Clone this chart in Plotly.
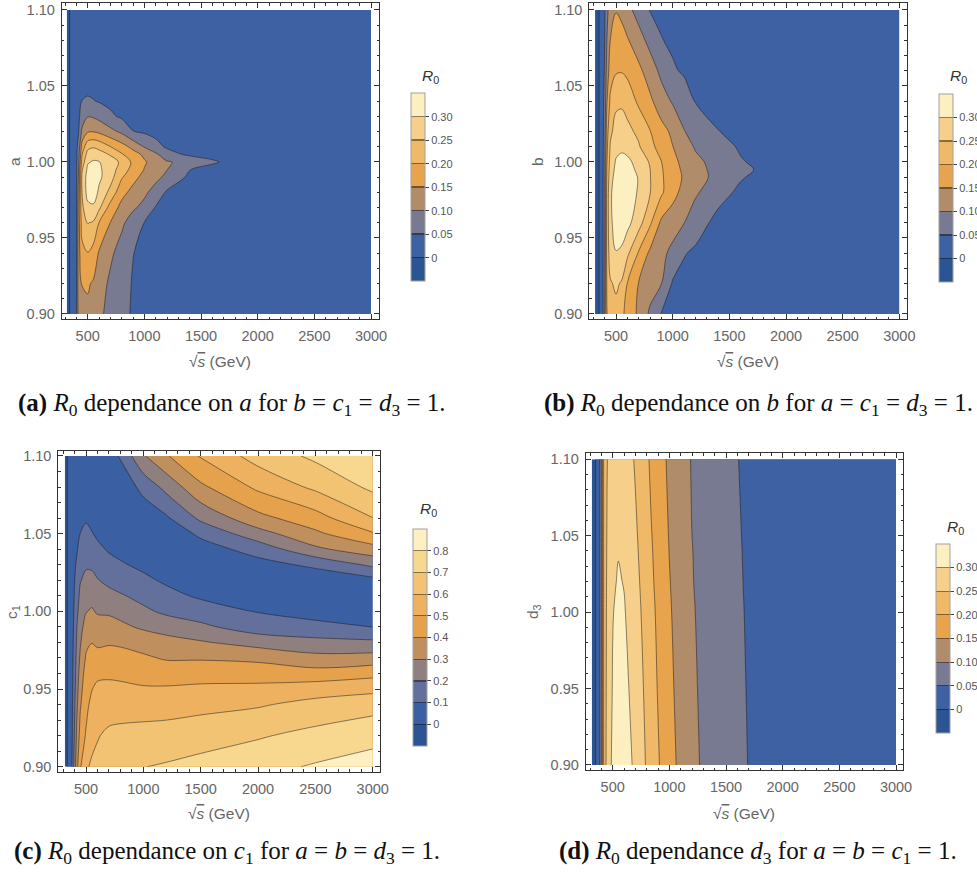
import plotly.graph_objects as go

W, H = 977, 878

# ---------------- data ----------------
sqrt_s = [315, 345, 360, 380, 400, 420, 450, 500, 550, 600, 700, 800, 900,
          1000, 1100, 1200, 1400, 1600, 1800, 2000, 2500, 3000]

# (a) R0 vs sqrt(s) and a
a_vals = [0.90, 0.92, 0.94, 0.96, 0.97, 0.98, 0.99, 0.995, 1.00, 1.005, 1.01, 1.02, 1.03,
          1.04, 1.05, 1.07, 1.10]
R0_a = [
    [-0.015, 0.003, 0.02, 0.03, 0.045, 0.12, 0.135, 0.14, 0.135, 0.11, 0.085, 0.063, 0.045, 0.035, 0.03, 0.025, 0.02, 0.018, 0.015, 0.013, 0.01, 0.008],
    [-0.015, 0.003, 0.02, 0.03, 0.045, 0.13, 0.152, 0.155, 0.145, 0.125, 0.09, 0.066, 0.047, 0.037, 0.031, 0.026, 0.021, 0.018, 0.016, 0.014, 0.011, 0.009],
    [-0.015, 0.003, 0.02, 0.03, 0.045, 0.13, 0.185, 0.198, 0.18, 0.145, 0.11, 0.078, 0.051, 0.04, 0.033, 0.028, 0.022, 0.019, 0.017, 0.015, 0.012, 0.01],
    [-0.015, 0.003, 0.02, 0.03, 0.045, 0.13, 0.22, 0.252, 0.245, 0.199, 0.149, 0.11, 0.075, 0.049, 0.04, 0.033, 0.025, 0.021, 0.019, 0.017, 0.013, 0.011],
    [-0.015, 0.003, 0.02, 0.03, 0.045, 0.13, 0.24, 0.285, 0.29, 0.26, 0.18, 0.135, 0.108, 0.085, 0.047, 0.04, 0.03, 0.025, 0.022, 0.02, 0.015, 0.012],
    [-0.015, 0.003, 0.02, 0.03, 0.045, 0.12, 0.25, 0.32, 0.33, 0.29, 0.235, 0.165, 0.135, 0.11, 0.08, 0.043, 0.032, 0.027, 0.023, 0.021, 0.016, 0.013],
    [-0.015, 0.003, 0.02, 0.03, 0.042, 0.11, 0.26, 0.32, 0.33, 0.31, 0.27, 0.205, 0.165, 0.135, 0.113, 0.088, 0.04, 0.03, 0.026, 0.023, 0.018, 0.014],
    [-0.015, 0.003, 0.02, 0.03, 0.041, 0.102, 0.245, 0.31, 0.32, 0.308, 0.275, 0.225, 0.183, 0.148, 0.125, 0.101, 0.051, 0.035, 0.03, 0.025, 0.019, 0.015],
    [-0.015, 0.003, 0.02, 0.03, 0.04, 0.09, 0.22, 0.295, 0.305, 0.302, 0.275, 0.24, 0.19, 0.155, 0.13, 0.105, 0.083, 0.056, 0.035, 0.028, 0.02, 0.015],
    [-0.015, 0.003, 0.02, 0.03, 0.039, 0.08, 0.198, 0.27, 0.28, 0.272, 0.245, 0.205, 0.17, 0.14, 0.11, 0.066, 0.042, 0.036, 0.031, 0.027, 0.021, 0.016],
    [-0.015, 0.003, 0.02, 0.03, 0.038, 0.07, 0.17, 0.235, 0.245, 0.235, 0.201, 0.17, 0.135, 0.097, 0.062, 0.045, 0.038, 0.033, 0.029, 0.026, 0.021, 0.016],
    [-0.015, 0.003, 0.02, 0.03, 0.035, 0.048, 0.11, 0.145, 0.148, 0.14, 0.115, 0.09, 0.051, 0.043, 0.039, 0.036, 0.032, 0.03, 0.028, 0.026, 0.021, 0.017],
    [-0.015, 0.003, 0.02, 0.028, 0.033, 0.042, 0.07, 0.098, 0.095, 0.085, 0.058, 0.043, 0.038, 0.035, 0.033, 0.031, 0.029, 0.027, 0.026, 0.024, 0.02, 0.017],
    [-0.015, 0.003, 0.02, 0.027, 0.031, 0.038, 0.051, 0.056, 0.052, 0.047, 0.04, 0.036, 0.033, 0.031, 0.03, 0.029, 0.027, 0.026, 0.025, 0.023, 0.02, 0.017],
    [-0.015, 0.003, 0.018, 0.025, 0.028, 0.032, 0.036, 0.038, 0.037, 0.035, 0.033, 0.031, 0.03, 0.029, 0.028, 0.027, 0.026, 0.025, 0.024, 0.023, 0.02, 0.017],
    [-0.015, 0.003, 0.015, 0.02, 0.022, 0.024, 0.026, 0.027, 0.027, 0.027, 0.026, 0.026, 0.025, 0.025, 0.024, 0.024, 0.023, 0.022, 0.022, 0.021, 0.019, 0.017],
    [-0.015, 0.003, 0.012, 0.015, 0.017, 0.018, 0.019, 0.02, 0.02, 0.02, 0.02, 0.02, 0.02, 0.02, 0.02, 0.02, 0.019, 0.019, 0.019, 0.018, 0.017, 0.016],
]

# (b) R0 vs sqrt(s) and b
b_vals = [0.90, 0.92, 0.94, 0.96, 0.98, 0.99, 0.995, 1.00, 1.01, 1.02, 1.04, 1.06, 1.08, 1.10]
R0_b = [
    [-0.03, -0.005, 0.008, 0.03, 0.098, 0.198, 0.228, 0.235, 0.21, 0.185, 0.14, 0.092, 0.048, 0.035, 0.03, 0.026, 0.021, 0.018, 0.016, 0.014, 0.011, 0.009],
    [-0.03, -0.005, 0.008, 0.03, 0.098, 0.21, 0.245, 0.258, 0.245, 0.199, 0.148, 0.12, 0.101, 0.045, 0.036, 0.03, 0.024, 0.02, 0.018, 0.016, 0.012, 0.01],
    [-0.03, -0.005, 0.008, 0.03, 0.098, 0.22, 0.275, 0.298, 0.29, 0.26, 0.195, 0.14, 0.115, 0.085, 0.053, 0.042, 0.031, 0.025, 0.021, 0.019, 0.014, 0.011],
    [-0.03, -0.005, 0.008, 0.03, 0.098, 0.22, 0.29, 0.32, 0.33, 0.315, 0.27, 0.208, 0.14, 0.125, 0.101, 0.073, 0.035, 0.028, 0.024, 0.021, 0.016, 0.012],
    [-0.03, -0.005, 0.008, 0.03, 0.095, 0.22, 0.29, 0.33, 0.34, 0.325, 0.295, 0.252, 0.208, 0.165, 0.135, 0.107, 0.068, 0.04, 0.03, 0.026, 0.019, 0.014],
    [-0.03, -0.005, 0.008, 0.03, 0.09, 0.21, 0.28, 0.32, 0.33, 0.318, 0.298, 0.252, 0.207, 0.17, 0.145, 0.12, 0.085, 0.054, 0.036, 0.03, 0.021, 0.015],
    [-0.03, -0.005, 0.008, 0.03, 0.088, 0.205, 0.275, 0.312, 0.322, 0.314, 0.292, 0.251, 0.205, 0.167, 0.142, 0.117, 0.084, 0.058, 0.044, 0.033, 0.021, 0.015],
    [-0.03, -0.005, 0.008, 0.03, 0.085, 0.198, 0.27, 0.305, 0.315, 0.31, 0.285, 0.245, 0.201, 0.162, 0.138, 0.113, 0.08, 0.054, 0.037, 0.03, 0.021, 0.015],
    [-0.03, -0.005, 0.008, 0.03, 0.08, 0.19, 0.255, 0.285, 0.29, 0.285, 0.255, 0.215, 0.18, 0.151, 0.125, 0.095, 0.07, 0.044, 0.035, 0.029, 0.021, 0.015],
    [-0.03, -0.005, 0.008, 0.03, 0.075, 0.18, 0.24, 0.268, 0.27, 0.262, 0.24, 0.202, 0.167, 0.14, 0.102, 0.085, 0.051, 0.04, 0.033, 0.028, 0.02, 0.015],
    [-0.03, -0.005, 0.008, 0.03, 0.065, 0.148, 0.21, 0.24, 0.243, 0.232, 0.19, 0.16, 0.122, 0.095, 0.075, 0.048, 0.038, 0.033, 0.029, 0.026, 0.019, 0.015],
    [-0.03, -0.005, 0.008, 0.028, 0.055, 0.12, 0.175, 0.195, 0.197, 0.188, 0.162, 0.125, 0.088, 0.056, 0.044, 0.04, 0.033, 0.03, 0.027, 0.024, 0.018, 0.014],
    [-0.03, -0.005, 0.008, 0.027, 0.049, 0.101, 0.151, 0.168, 0.165, 0.155, 0.12, 0.085, 0.052, 0.042, 0.037, 0.034, 0.03, 0.027, 0.025, 0.023, 0.018, 0.014],
    [-0.03, -0.005, 0.008, 0.026, 0.045, 0.085, 0.13, 0.148, 0.14, 0.115, 0.08, 0.048, 0.04, 0.036, 0.033, 0.031, 0.028, 0.025, 0.023, 0.021, 0.017, 0.014],
]

# (c) R0 vs sqrt(s) and c1 (one list per sqrt(s) value, running over c1_vals)
sqrt_s_c = [315, 340, 360, 380, 400, 420, 450, 500, 550, 600, 700, 800, 1000, 1200, 1500, 2000, 2500, 3000]
c1_vals = [0.90, 0.92, 0.94, 0.95, 0.96, 0.97, 0.98, 0.99, 1.00, 1.01, 1.02, 1.03, 1.04, 1.05, 1.06, 1.08, 1.10]
R0_c_cols = [
    [-0.03] * 17,
    [0.005] * 17,
    [0.04, 0.038, 0.036, 0.035, 0.034, 0.033, 0.032, 0.031, 0.03, 0.029, 0.028, 0.026, 0.024, 0.022, 0.02, 0.017, 0.015],
    [0.11, 0.098, 0.09, 0.085, 0.08, 0.075, 0.07, 0.065, 0.06, 0.055, 0.05, 0.045, 0.04, 0.035, 0.03, 0.02, 0.015],
    [0.25, 0.21, 0.185, 0.17, 0.16, 0.151, 0.14, 0.13, 0.12, 0.108, 0.097, 0.085, 0.07, 0.06, 0.049, 0.035, 0.02],
    [0.37, 0.32, 0.28, 0.26, 0.245, 0.23, 0.215, 0.199, 0.18, 0.16, 0.14, 0.115, 0.09, 0.07, 0.055, 0.04, 0.025],
    [0.49, 0.435, 0.39, 0.37, 0.345, 0.315, 0.29, 0.265, 0.24, 0.22, 0.195, 0.165, 0.135, 0.101, 0.08, 0.048, 0.03],
    [0.59, 0.51, 0.47, 0.455, 0.44, 0.41, 0.38, 0.34, 0.295, 0.255, 0.22, 0.19, 0.155, 0.12, 0.09, 0.048, 0.03],
    [0.61, 0.58, 0.53, 0.495, 0.46, 0.43, 0.398, 0.355, 0.31, 0.27, 0.225, 0.185, 0.145, 0.105, 0.075, 0.04, 0.035],
    [0.62, 0.595, 0.56, 0.53, 0.47, 0.43, 0.385, 0.34, 0.29, 0.245, 0.205, 0.165, 0.12, 0.085, 0.06, 0.03, 0.045],
    [0.65, 0.615, 0.565, 0.53, 0.48, 0.44, 0.39, 0.34, 0.285, 0.23, 0.175, 0.13, 0.09, 0.06, 0.04, 0.02, 0.06],
    [0.67, 0.625, 0.56, 0.52, 0.48, 0.435, 0.385, 0.32, 0.27, 0.21, 0.155, 0.11, 0.075, 0.045, 0.025, 0.03, 0.11],
    [0.698, 0.64, 0.55, 0.51, 0.465, 0.415, 0.36, 0.285, 0.22, 0.17, 0.12, 0.08, 0.045, 0.025, 0.035, 0.13, 0.29],
    [0.71, 0.64, 0.56, 0.51, 0.46, 0.39, 0.335, 0.26, 0.18, 0.13, 0.085, 0.052, 0.025, 0.03, 0.085, 0.23, 0.39],
    [0.73, 0.66, 0.57, 0.52, 0.46, 0.39, 0.31, 0.22, 0.15, 0.085, 0.045, 0.03, 0.055, 0.12, 0.22, 0.38, 0.51],
    [0.77, 0.69, 0.59, 0.53, 0.45, 0.38, 0.26, 0.15, 0.095, 0.045, 0.03, 0.065, 0.14, 0.26, 0.37, 0.52, 0.64],
    [0.81, 0.73, 0.63, 0.555, 0.44, 0.33, 0.23, 0.13, 0.06, 0.03, 0.035, 0.12, 0.28, 0.38, 0.46, 0.62, 0.72],
    [0.84, 0.77, 0.66, 0.575, 0.47, 0.34, 0.22, 0.099, 0.04, 0.03, 0.07, 0.22, 0.36, 0.49, 0.598, 0.72, 0.79],
]

# (d) R0 vs sqrt(s) and d3
d3_vals = [0.90, 0.95, 1.00, 1.02, 1.04, 1.06, 1.10]
R0_d = [
    [-0.03, -0.004, 0.01, 0.03, 0.101, 0.201, 0.27, 0.31, 0.33, 0.325, 0.29, 0.245, 0.205, 0.165, 0.14, 0.11, 0.08, 0.06, 0.038, 0.03, 0.02, 0.015],
    [-0.03, -0.004, 0.01, 0.03, 0.101, 0.201, 0.265, 0.303, 0.32, 0.315, 0.28, 0.238, 0.197, 0.16, 0.135, 0.107, 0.078, 0.058, 0.037, 0.029, 0.02, 0.015],
    [-0.03, -0.004, 0.01, 0.03, 0.101, 0.201, 0.26, 0.298, 0.31, 0.304, 0.27, 0.23, 0.19, 0.155, 0.13, 0.104, 0.076, 0.056, 0.036, 0.028, 0.019, 0.014],
    [-0.03, -0.004, 0.01, 0.03, 0.101, 0.201, 0.258, 0.293, 0.304, 0.298, 0.265, 0.225, 0.185, 0.152, 0.128, 0.102, 0.075, 0.055, 0.035, 0.028, 0.019, 0.014],
    [-0.03, -0.004, 0.01, 0.03, 0.101, 0.201, 0.255, 0.288, 0.298, 0.292, 0.26, 0.22, 0.182, 0.149, 0.126, 0.101, 0.074, 0.054, 0.035, 0.027, 0.018, 0.014],
    [-0.03, -0.004, 0.01, 0.03, 0.101, 0.201, 0.252, 0.283, 0.292, 0.287, 0.255, 0.215, 0.178, 0.146, 0.124, 0.099, 0.073, 0.053, 0.034, 0.027, 0.018, 0.013],
    [-0.03, -0.004, 0.01, 0.03, 0.101, 0.201, 0.248, 0.276, 0.284, 0.28, 0.245, 0.207, 0.172, 0.141, 0.12, 0.097, 0.072, 0.051, 0.033, 0.026, 0.018, 0.013],
]

levels_small = dict(start=0.0, end=0.30, size=0.05)
levels_c = dict(start=0.0, end=0.8, size=0.1)
ticks_small = [0, 0.05, 0.10, 0.15, 0.20, 0.25, 0.30]
ticktext_small = ["0", "0.05", "0.10", "0.15", "0.20", "0.25", "0.30"]
ticks_c = [0, 0.1, 0.2, 0.3, 0.4, 0.5, 0.6, 0.7, 0.8]
ticktext_c = ["0", "0.1", "0.2", "0.3", "0.4", "0.5", "0.6", "0.7", "0.8"]

x_ticks = [500, 1000, 1500, 2000, 2500, 3000]
y_ticks = [0.90, 0.95, 1.00, 1.05, 1.10]

# ---------------- style ----------------
COLORS8 = ["#2b5592", "#3d61a2", "#777a90", "#b08c6a", "#e8a34d", "#efb968", "#f6d08b", "#fdf0c0"]
COLORS10 = ["#2b5592", "#3b5fa3", "#62709b", "#8f807f", "#c08f5e", "#e6a14c",
            "#edb15f", "#f2c373", "#f8d78f", "#fef0c2"]
LINE = "rgba(25,25,25,0.5)"
TICKCOL = "#666666"
FRAME = "#333333"
SANS = "Liberation Sans, Arial, sans-serif"
SERIF = "Liberation Serif, Times New Roman, serif"


def hex2rgb(h):
    h = h.lstrip("#")
    return [int(h[i:i + 2], 16) for i in (0, 2, 4)]


def band_scale(colors):
    n = len(colors)
    return [[k / (n - 1), c] for k, c in enumerate(colors)]


def legend_scale(colors, bar_px):
    n = len(colors)
    e = 0.6 / bar_px
    stops = [[0.0, colors[0]]]
    for k in range(1, n):
        b = k / n
        c1, c2 = hex2rgb(colors[k - 1]), hex2rgb(colors[k])
        m = [int(0.55 * (u + v) / 2) for u, v in zip(c1, c2)]
        lc = "rgb(%d,%d,%d)" % tuple(m)
        stops += [[b - e, colors[k - 1]], [b - e, lc], [b + e, lc], [b + e, colors[k]]]
    stops.append([1.0, colors[-1]])
    return stops


def fx(px):
    return px / W


def fy(py):
    return 1 - py / H


fig = go.Figure()

panels = [
    dict(x=sqrt_s, y=a_vals, z=R0_a, lev=levels_small, col=COLORS8,
         frame=(61.7, 379.0, 3.3, 319.0), xr=[270.6, 3070.6], yr=[0.8967, 1.1044],
         bar=(411, 93.3, 188.4), tv=ticks_small, tt=ticktext_small, cmin=-0.05, cmax=0.35,
         ylab="a", ylab_pos=(14, 162), xlab_pos=(220, 361), rt=(430, 77)),
    dict(x=sqrt_s, y=b_vals, z=R0_b, lev=levels_small, col=COLORS8,
         frame=(589.3, 906.7, 3.3, 319.0), xr=[264.4, 3065.0], yr=[0.8967, 1.1044],
         bar=(939, 94, 188), tv=ticks_small, tt=ticktext_small, cmin=-0.05, cmax=0.35,
         ylab="b", ylab_pos=(537, 162), xlab_pos=(748, 361), rt=(958, 77)),
    dict(x=sqrt_s_c, y=c1_vals, z=[list(r) for r in zip(*R0_c_cols)], lev=levels_c, col=COLORS10,
         frame=(58.3, 380.0, 451.0, 771.7), xr=[258.4, 3063.7], yr=[0.8968, 1.1032],
         bar=(412.7, 529, 217), tv=ticks_c, tt=ticktext_c, cmin=-0.1, cmax=0.9,
         ylab="c<sub>1</sub>", ylab_pos=(12, 612), xlab_pos=(219, 813), rt=(428, 509)),
    dict(x=sqrt_s, y=d3_vals, z=R0_d, lev=levels_small, col=COLORS8,
         frame=(585.7, 903.3, 453.3, 770.0), xr=[261.8, 3064.4], yr=[0.8967, 1.1039],
         bar=(935.7, 544, 188.7), tv=ticks_small, tt=ticktext_small, cmin=-0.05, cmax=0.35,
         ylab="d<sub>3</sub>", ylab_pos=(533, 612), xlab_pos=(744, 813), rt=(955, 527)),
]

annotations = []
layout_axes = {}
for i, p in enumerate(panels, start=1):
    xa = "x" if i == 1 else "x%d" % i
    ya = "y" if i == 1 else "y%d" % i
    fig.add_trace(go.Contour(
        x=p["x"], y=p["y"], z=p["z"],
        contours=dict(start=p["lev"]["start"], end=p["lev"]["end"], size=p["lev"]["size"],
                      coloring="fill", showlines=True),
        colorscale=band_scale(p["col"]),
        line=dict(color=LINE, width=1, smoothing=1.0),
        showscale=False, hoverinfo="skip",
        xaxis=xa, yaxis=ya,
    ))
    bl, bt, bh = p["bar"]
    fig.add_trace(go.Scatter(
        x=[None], y=[None], mode="markers", showlegend=False, hoverinfo="skip",
        xaxis=xa, yaxis=ya,
        marker=dict(color=[0], cmin=p["cmin"], cmax=p["cmax"],
                    colorscale=legend_scale(p["col"], bh), showscale=True,
                    colorbar=dict(x=fx(bl), xanchor="left", xpad=0, y=fy(bt), yanchor="top",
                                  ypad=0, len=bh, lenmode="pixels", thickness=14,
                                  thicknessmode="pixels", outlinewidth=1, outlinecolor="#a0a0a0",
                                  tickvals=p["tv"], ticktext=p["tt"], ticks="outside",
                                  ticklen=4, tickwidth=1, tickcolor="#444",
                                  tickfont=dict(family=SANS, size=11, color="#555"))),
    ))
    l, r, t, b = p["frame"]
    common = dict(showline=True, linecolor=FRAME, linewidth=1, mirror="allticks",
                  ticks="inside", tickcolor=FRAME, ticklen=5, tickwidth=1,
                  showgrid=False, zeroline=False,
                  tickfont=dict(family=SANS, size=14.5, color=TICKCOL))
    layout_axes["xaxis" if i == 1 else "xaxis%d" % i] = dict(
        domain=[fx(l), fx(r)], range=p["xr"], anchor=ya, tickvals=x_ticks,
        minor=dict(ticks="inside", dtick=100, tick0=0, ticklen=2.5, tickcolor=FRAME),
        ticklabelstandoff=4, **common)
    layout_axes["yaxis" if i == 1 else "yaxis%d" % i] = dict(
        domain=[fy(b), fy(t)], range=p["yr"], anchor=xa, tickvals=y_ticks,
        tickformat=".2f",
        minor=dict(ticks="inside", dtick=0.01, tick0=0.9, ticklen=2.5, tickcolor=FRAME),
        ticklabelstandoff=3, **common)
    annotations.append(dict(
        x=fx(p["xlab_pos"][0]), y=fy(p["xlab_pos"][1]), xref="paper", yref="paper",
        text="\u221a<span style=\"text-decoration:overline\"><i>s</i></span> (GeV)",
        showarrow=False, xanchor="center", yanchor="middle",
        font=dict(family=SANS, size=15.5, color=TICKCOL)))
    annotations.append(dict(
        x=fx(p["ylab_pos"][0]), y=fy(p["ylab_pos"][1]), xref="paper", yref="paper",
        text=p["ylab"], showarrow=False, textangle=-90, xanchor="center", yanchor="middle",
        font=dict(family=SANS, size=15.5, color=TICKCOL)))
    annotations.append(dict(
        x=fx(p["rt"][0]), y=fy(p["rt"][1]), xref="paper", yref="paper",
        text="<i>R</i><sub>0</sub>", showarrow=False, xanchor="center", yanchor="middle",
        font=dict(family=SANS, size=15.5, color="#333")))

captions = [
    ((232, 405), "<b>(a)</b> <i>R</i><sub>0</sub> dependance on <i>a</i> for <i>b</i> = <i>c</i><sub>1</sub> = <i>d</i><sub>3</sub> = 1."),
    ((758, 405), "<b>(b)</b> <i>R</i><sub>0</sub> dependance on <i>b</i> for <i>a</i> = <i>c</i><sub>1</sub> = <i>d</i><sub>3</sub> = 1."),
    ((227, 852), "<b>(c)</b> <i>R</i><sub>0</sub> dependance on <i>c</i><sub>1</sub> for <i>a</i> = <i>b</i> = <i>d</i><sub>3</sub> = 1."),
    ((758, 852), "<b>(d)</b> <i>R</i><sub>0</sub> dependance <i>d</i><sub>3</sub> for <i>a</i> = <i>b</i> = <i>c</i><sub>1</sub> = 1."),
]
for (cx, cy), txt in captions:
    annotations.append(dict(x=fx(cx), y=fy(cy), xref="paper", yref="paper", text=txt,
                            showarrow=False, xanchor="center", yanchor="middle",
                            font=dict(family=SERIF, size=25, color="#111")))

fig.update_layout(
    width=W, height=H, margin=dict(l=0, r=0, t=0, b=0, autoexpand=False),
    paper_bgcolor="white", plot_bgcolor="white", showlegend=False,
    annotations=annotations, **layout_axes,
)

fig.write_html("out.html", config={"displayModeBar": False, "staticPlot": True},
               post_script="document.body.style.margin='0';document.body.style.overflow='hidden';")
